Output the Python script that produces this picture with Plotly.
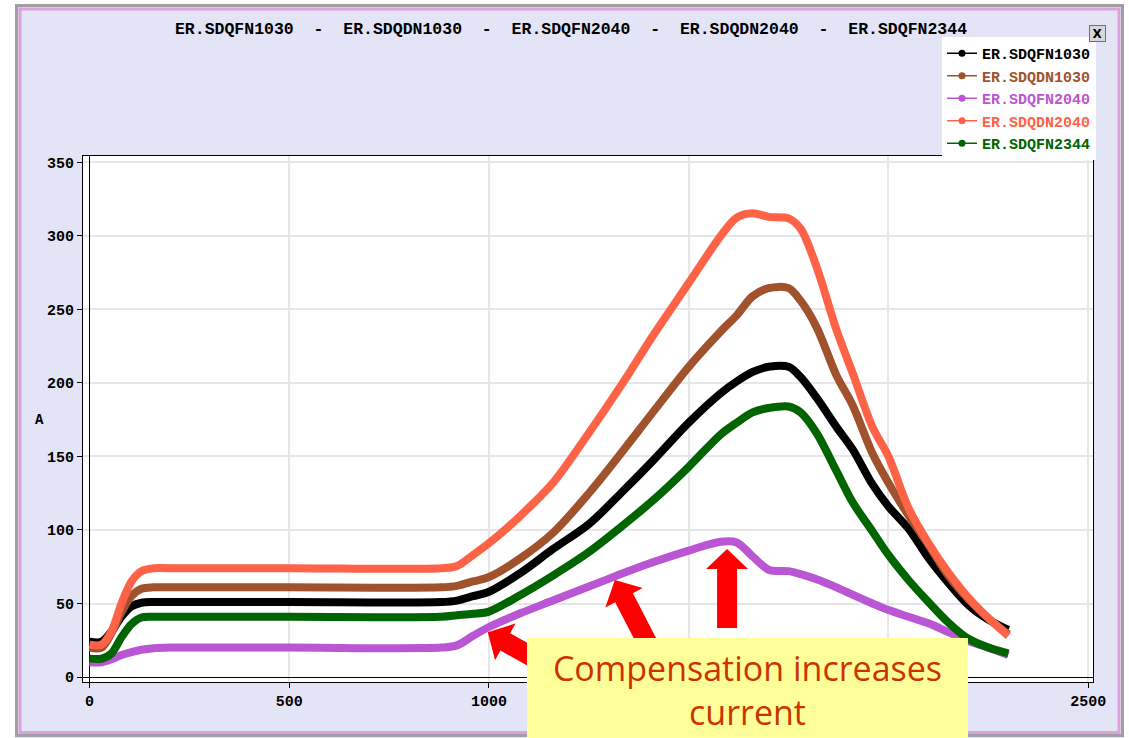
import math
import plotly.graph_objects as go

# ---- data ----
time_s = [0, 30, 55, 80, 105, 130, 160, 200, 500, 880, 920, 960, 1000, 1080, 1160, 1250, 1330,
          1410, 1500, 1580, 1620, 1660, 1700, 1750, 1780, 1820, 1870, 1910, 1960, 2000, 2050,
          2100, 2150, 2200, 2250, 2300]

sdqfn1030 = [24, 24, 31, 41, 48, 50.5, 51, 51, 51, 51, 52, 55, 58, 71, 87, 104, 125,
             147, 173, 193, 201, 207.5, 211, 211, 204, 190, 170, 155, 131, 116, 101,
             81, 64, 49, 39, 32]
sdqdn1030 = [20, 20, 30, 44, 55, 60, 61, 61, 61, 61, 62, 65, 68, 81, 98, 125, 152,
             180, 211, 235, 246, 259, 264.5, 264.5, 256, 238, 205, 185, 152, 132, 110,
             90, 69, 53, 40, 29]
sdqfn2040 = [10, 10, 12, 15, 17, 18.5, 19.5, 20, 20, 20, 21.5, 28, 34, 43.5, 52, 61.5, 70,
             78, 86, 92, 91.5, 82, 73, 72, 70, 66.5, 61, 56, 50, 45.5, 41,
             36.5, 30.5, 24.5, 20, 15]
sdqdn2040 = [22, 22, 31, 50, 65, 72, 74, 74, 74, 74, 75.5, 83, 91, 110, 132, 166, 198,
             232, 268, 300, 312.5, 315.5, 313, 312, 305, 279, 236, 207, 170, 150, 115,
             91, 71, 54, 40, 28]
sdqfn2344 = [12.5, 12.5, 16, 27, 36, 40.5, 41, 41, 41, 41, 42, 43, 44.5, 56, 69, 85, 102,
             120, 143, 165, 173, 180, 183, 184, 180, 166, 140, 119, 99, 83, 66,
             51, 37, 26, 20, 16]

series_names = ["ER.SDQFN1030", "ER.SDQDN1030", "ER.SDQFN2040", "ER.SDQDN2040", "ER.SDQFN2344"]
series_values = [sdqfn1030, sdqdn1030, sdqfn2040, sdqdn2040, sdqfn2344]
series_colors = ["#000000", "#A0522D", "#BA55D3", "#FF6347", "#006400"]

x_ticks = [0, 500, 1000, 1500, 2000, 2500]
y_ticks = [0, 50, 100, 150, 200, 250, 300, 350]

# points (in data units) that the red arrows point at
arrow_tips_x = [997, 1315, 1596]
arrow_tips_y = [30.5, 66, 87]

# ---- layout geometry ----
W, H = 1129, 738
L, R, T, B = 83, 36, 156, 56
PW, PH = W - L - R, H - T - B
X_RANGE = [-16.3, 2512]
Y_RANGE = [-3.4, 354.4]


def px_x(p):
    return (p - L) / PW


def px_y(p):
    return (H - B - p) / PH


def data_to_px(x, y):
    px = L + (x - X_RANGE[0]) / (X_RANGE[1] - X_RANGE[0]) * PW
    py = T + (Y_RANGE[1] - y) / (Y_RANGE[1] - Y_RANGE[0]) * PH
    return px, py


def arrow_path(tip, tail, shaft=20, head_w=42, head_l=20):
    tx, ty = tip
    sx, sy = tail
    dx, dy = tx - sx, ty - sy
    n = math.hypot(dx, dy)
    ux, uy = dx / n, dy / n
    nx, ny = -uy, ux
    bx, by = tx - ux * head_l, ty - uy * head_l
    pts = [
        (sx + nx * shaft / 2, sy + ny * shaft / 2),
        (bx + nx * shaft / 2, by + ny * shaft / 2),
        (bx + nx * head_w / 2, by + ny * head_w / 2),
        (tx, ty),
        (bx - nx * head_w / 2, by - ny * head_w / 2),
        (bx - nx * shaft / 2, by - ny * shaft / 2),
        (sx - nx * shaft / 2, sy - ny * shaft / 2),
    ]
    return "M" + " L".join(f"{px_x(a):.5f},{px_y(b):.5f}" for a, b in pts) + " Z"


MONO = "Liberation Mono"
fig = go.Figure()

for name, vals, col in zip(series_names, series_values, series_colors):
    fig.add_trace(go.Scatter(
        x=time_s, y=vals, mode="lines", name=name, showlegend=False,
        line=dict(color=col, width=8, shape="spline", smoothing=0.9),
        hoverinfo="x+y+name"))

# legend entries (thin line + dot, like the reference legend)
for name, col in zip(series_names, series_colors):
    fig.add_trace(go.Scatter(
        x=[None], y=[None], mode="lines+markers",
        name=f"<span style='color:{col}'>{name}</span>",
        line=dict(color=col, width=1.5), marker=dict(color=col, size=7)))

nb = "\u00a0"
sep = f"{nb}{nb}-{nb}{nb}"
title_text = sep.join(series_names)

shapes = [
    dict(type="rect", xref="paper", yref="paper", x0=px_x(0), x1=px_x(15), y0=px_y(H), y1=px_y(0),
         fillcolor="white", line_width=0, layer="below"),
    dict(type="rect", xref="paper", yref="paper", x0=px_x(0), x1=px_x(W), y0=px_y(4), y1=px_y(0),
         fillcolor="white", line_width=0, layer="below"),
    dict(type="rect", xref="paper", yref="paper", x0=px_x(1124), x1=px_x(W), y0=px_y(H), y1=px_y(0),
         fillcolor="white", line_width=0, layer="below"),
    dict(type="rect", xref="paper", yref="paper", x0=px_x(16.5), x1=px_x(1122.5), y0=px_y(735.5), y1=px_y(5.5),
         line=dict(color="#A0A0A0", width=3), layer="below"),
    dict(type="rect", xref="paper", yref="paper", x0=px_x(20), x1=px_x(1119), y0=px_y(732.5), y1=px_y(9),
         line=dict(color="#DDA0DD", width=3), layer="below"),
]

tail_offsets = [(72, 40), (45, 87), (0, 79)]
for ax_, ay_, (ox, oy) in zip(arrow_tips_x, arrow_tips_y, tail_offsets):
    tip = data_to_px(ax_, ay_)
    tail = (tip[0] + ox, tip[1] + oy)
    shapes.append(dict(type="path", xref="paper", yref="paper", path=arrow_path(tip, tail),
                       fillcolor="#FF0000", line_width=0, layer="above"))

annotations = [
    dict(text="<b>A</b>", xref="paper", yref="paper", x=px_x(33), y=px_y(420), showarrow=False,
         font=dict(family=MONO, size=14, color="black")),
    dict(text="<b>X</b>", xref="paper", yref="paper", x=px_x(1106), y=px_y(25), showarrow=False,
         font=dict(family="DejaVu Sans", size=12, color="black"), bgcolor="#D8D8D8",
         bordercolor="#707070", borderwidth=1, width=15, height=15, borderpad=0),
    dict(text="Compensation increases<br>current", xref="paper", yref="paper",
         x=px_x(747.5), y=px_y(690), xanchor="center", yanchor="middle", showarrow=False,
         font=dict(family="Open Sans", size=34, color="#CC3300"),
         bgcolor="#FFFF99", width=441, height=104, borderpad=0, borderwidth=0, align="center"),
]

fig.update_layout(
    width=W, height=H,
    margin=dict(l=L, r=R, t=T, b=B, pad=0),
    paper_bgcolor="#E4E4F7",
    plot_bgcolor="white",
    title=dict(text=f"<b>{title_text}</b>", x=571 / W, xref="container", xanchor="center",
               y=1 - 28 / H, yref="container", yanchor="middle",
               font=dict(family=MONO, size=16.5, color="black")),
    legend=dict(x=px_x(942), y=px_y(37), xanchor="left", yanchor="top",
                bgcolor="white", borderwidth=0, itemwidth=30,
                font=dict(family=MONO, size=15, color="black", weight="bold"),
                tracegroupgap=0),
    xaxis=dict(range=X_RANGE, tickvals=x_ticks, ticktext=[str(v) for v in x_ticks],
               showgrid=True, gridcolor="#E6E6E6", gridwidth=1.5,
               showline=True, mirror=True, linecolor="black", linewidth=1,
               zeroline=True, zerolinecolor="black", zerolinewidth=1,
               ticks="outside", ticklen=5, tickcolor="black",
               tickfont=dict(family=MONO, size=15, color="black", weight="bold")),
    yaxis=dict(range=Y_RANGE, tickvals=y_ticks, ticktext=[str(v) for v in y_ticks],
               showgrid=True, gridcolor="#E6E6E6", gridwidth=1.5,
               showline=True, mirror=True, linecolor="black", linewidth=1,
               zeroline=True, zerolinecolor="black", zerolinewidth=1,
               ticks="outside", ticklen=5, tickcolor="black",
               tickfont=dict(family=MONO, size=15, color="black", weight="bold")),
    shapes=shapes,
    annotations=annotations,
)

fig.write_html("out.html")
